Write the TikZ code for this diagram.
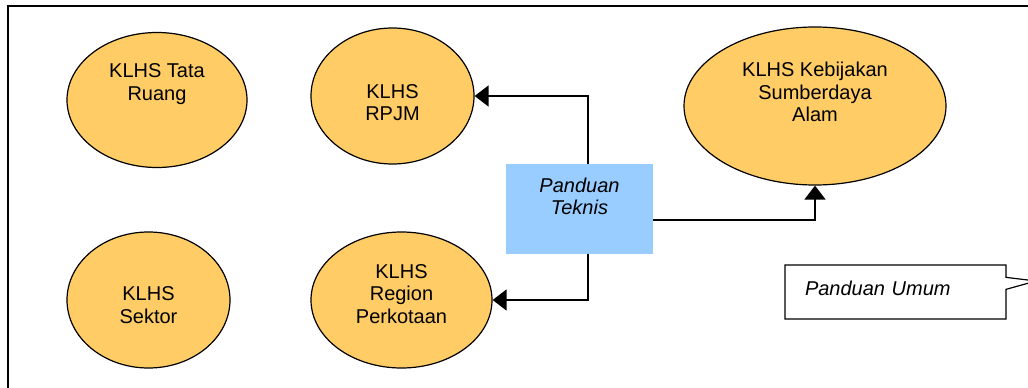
\documentclass[tikz,border=0pt]{standalone}
\usepackage{fontspec}
\setmainfont{Liberation Sans}
\usetikzlibrary{arrows.meta,positioning,calc,shapes.geometric,shapes.callouts}
\definecolor{klhsorange}{HTML}{FFCC66}
\definecolor{panduanblue}{HTML}{99CCFF}

\begin{document}
\begin{tikzpicture}[x=1pt, y=-1pt, >={Triangle[length=14pt,width=21pt]},
  klhs/.style={ellipse, draw, line width=1.2pt, fill=klhsorange, inner sep=0pt},
  ktext/.style={align=center, font=\fontsize{20}{22.5}\selectfont},
  link/.style={->, line width=1.5pt}]
\useasboundingbox (0,0) rectangle (1028,388);
\clip (0,0) rectangle (1028,388);
\draw[line width=1.5pt] (8,6) rectangle (1040,400);
% KLHS ellipses
\node (tata) [klhs, minimum width=180pt, minimum height=135pt,
  label={[ktext, yshift=16pt]center:KLHS Tata\\Ruang}] at (157,100) {};
\node (sektor) [klhs, minimum width=163pt, minimum height=136pt,
  label={[ktext, yshift=-5pt]center:KLHS\\Sektor}] at (148.5,300) {};
\node (rpjm) [klhs, minimum width=163pt, minimum height=136pt,
  label={[ktext, yshift=-6.5pt]center:KLHS\\RPJM}] at (392.5,96) {};
\node (region) [klhs, minimum width=181pt, minimum height=136pt,
  label={[ktext, yshift=6pt]center:KLHS\\Region\\Perkotaan}] at (401.5,300) {};
\node (sda) [klhs, minimum width=262pt, minimum height=158pt,
  label={[ktext, yshift=14pt]center:KLHS Kebijakan\\Sumberdaya\\Alam}] at (815,106) {};
% guides
\node (teknis) [rectangle, fill=panduanblue, minimum width=147pt, minimum height=90pt,
  label={[ktext, font=\fontsize{20}{22.5}\selectfont\itshape, yshift=12.5pt]center:Panduan\\Teknis}]
  at (579.5,209) {};
\node (umum) [rectangle callout, draw, line width=1.2pt, fill=white,
  callout absolute pointer={(1036,281)}, callout pointer width=12pt,
  minimum height=54pt, text width=181pt, inner xsep=20pt, inner ysep=0pt,
  text depth=7pt, align=left, font=\fontsize{20}{22.5}\selectfont\itshape]
  at (895.5,292) {Panduan Umum};
\draw[link] ([xshift=8.5pt]teknis.north) |- (rpjm);
\draw[link] ([xshift=8.5pt]teknis.south) |- (region);
\draw[link] ([yshift=-11pt]teknis.east) -| (sda);
\end{tikzpicture}
\end{document}
